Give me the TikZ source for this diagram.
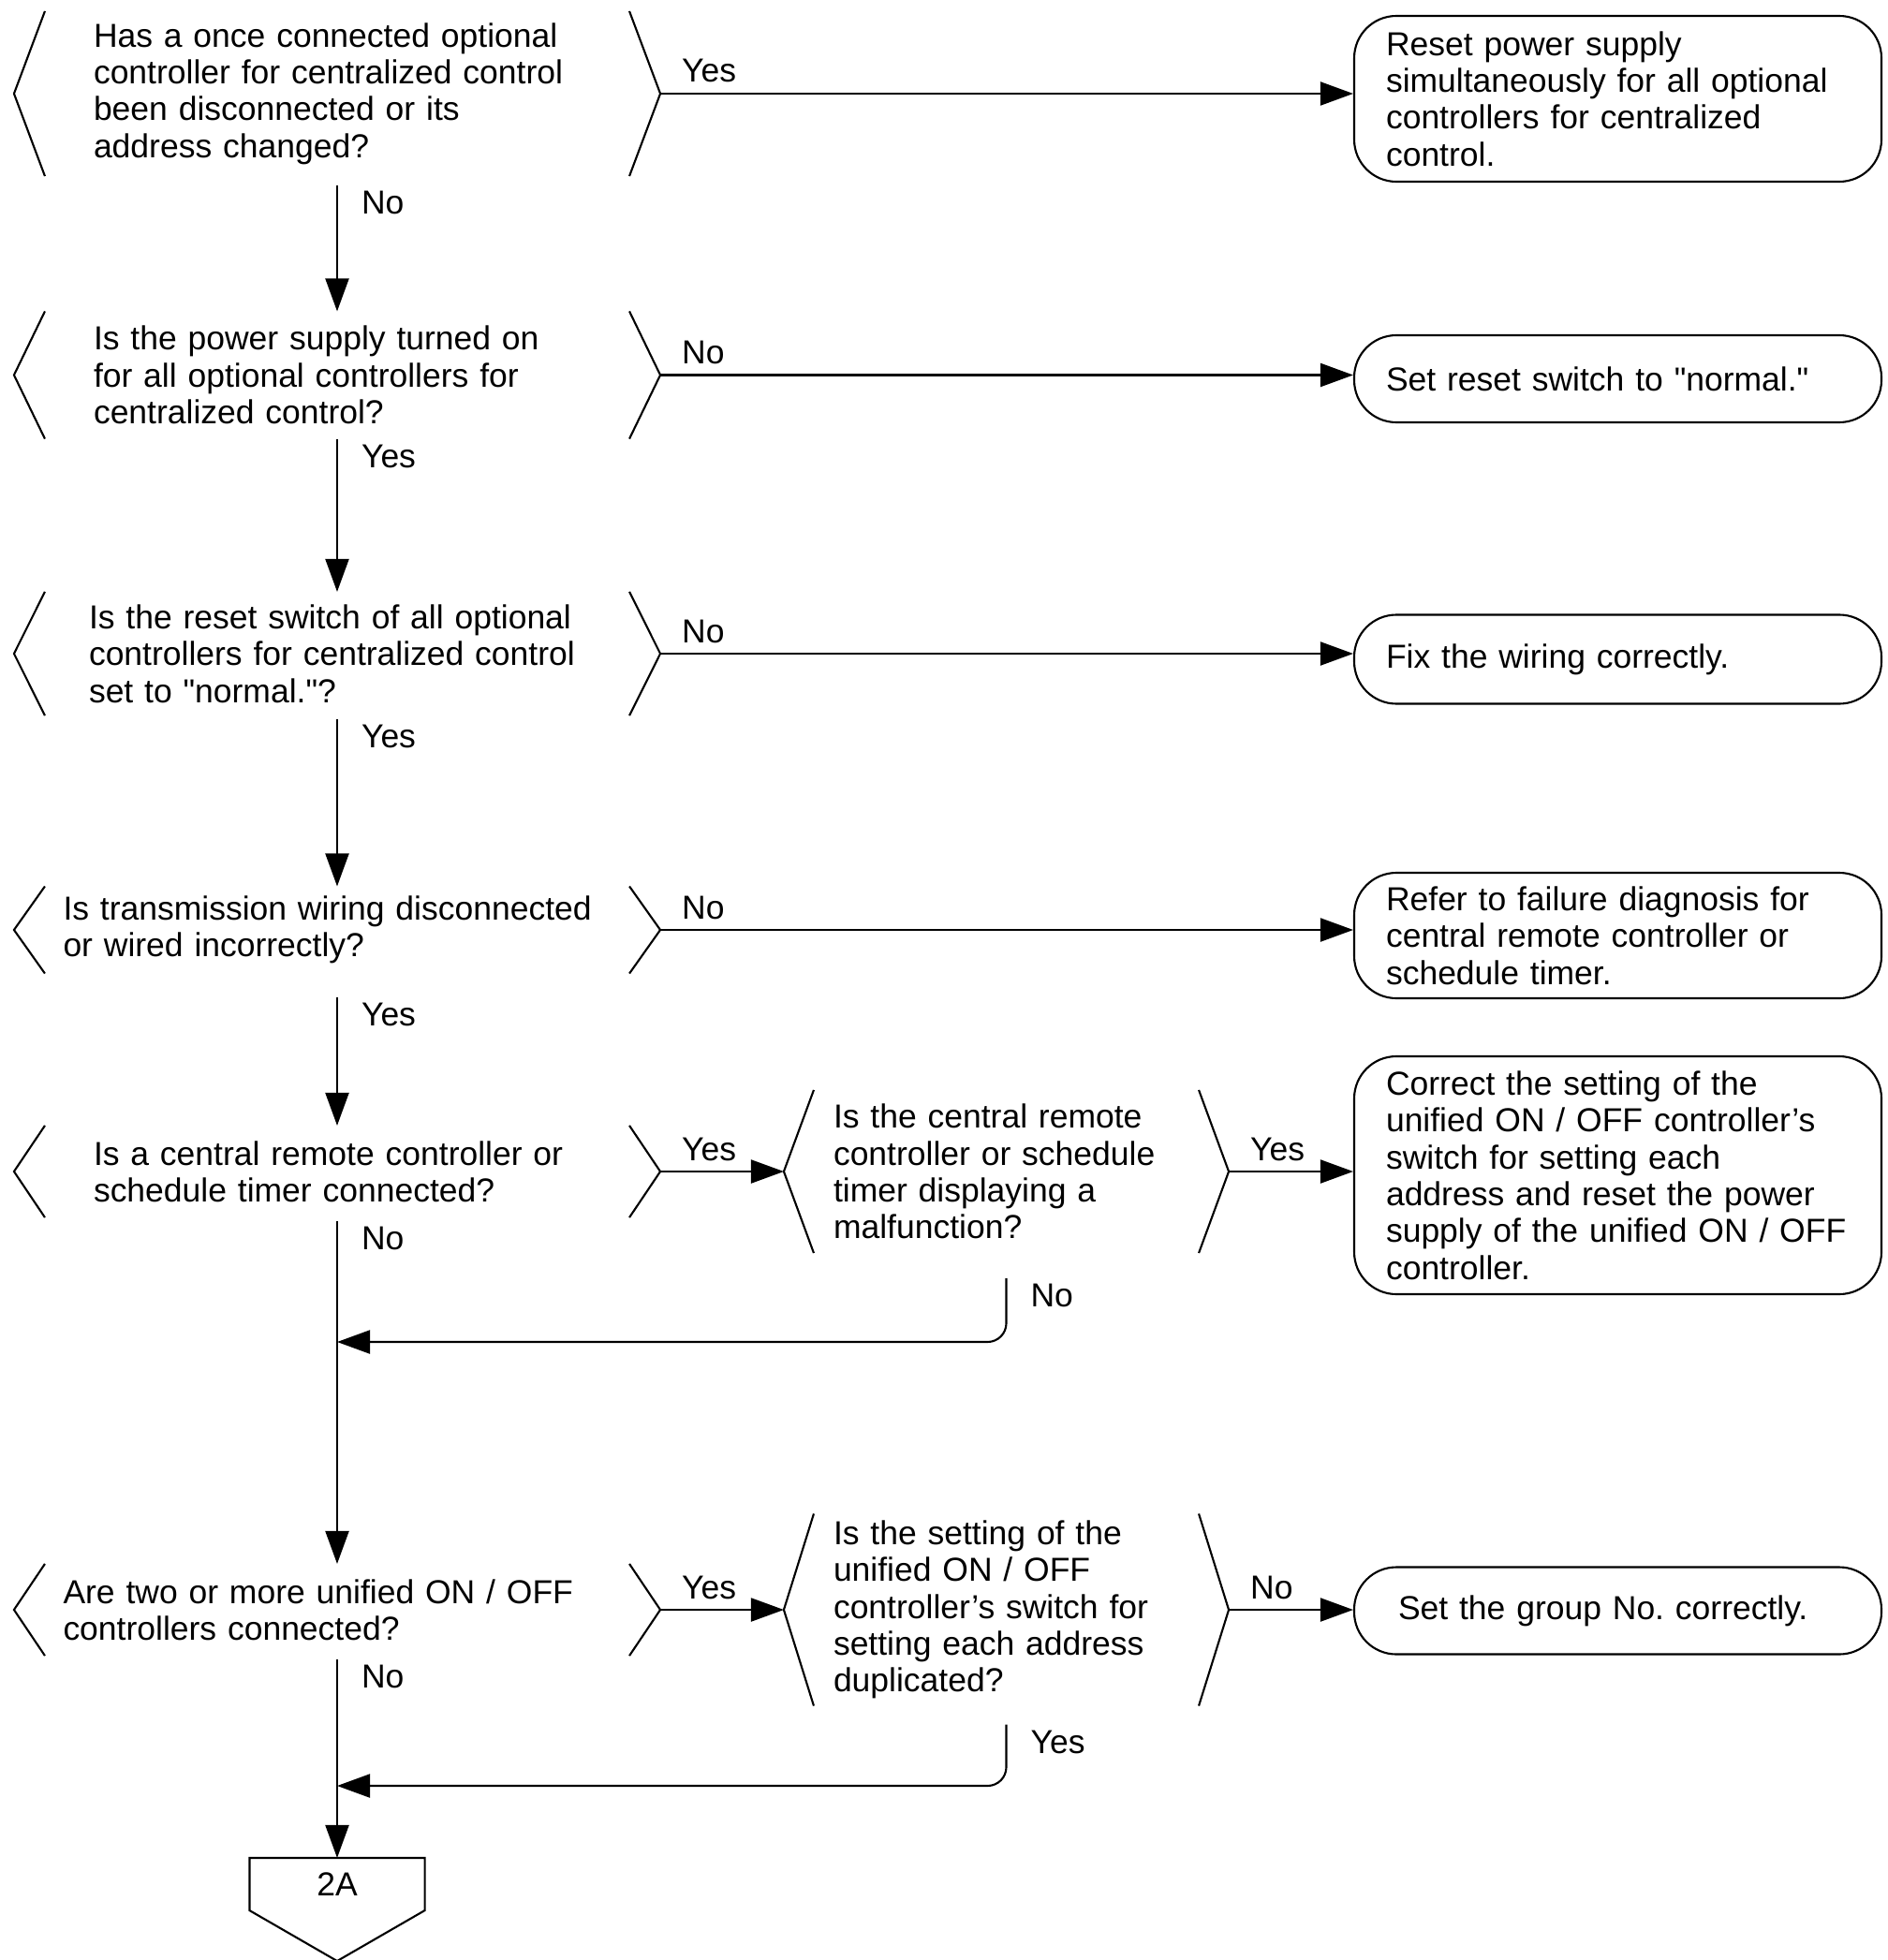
\documentclass[tikz,border=0pt]{standalone}
\usepackage{fontspec}
\setmainfont{Liberation Sans}
\usetikzlibrary{arrows.meta,calc}
\frenchspacing
\newcommand{\flowfont}{\fontsize{10.1}{11.2}\selectfont}
\newcommand{\qq}[1]{\textquotedbl#1\textquotedbl}
% the two angle marks round a question
\newcommand{\qmarks}[2]{%
  \coordinate (#1l) at ($(#1.west)+(-#2,0)$);
  \coordinate (#1r) at ($(#1.east)+(#2,0)$);
  \draw (#1.north west) -- (#1l) -- (#1.south west);
  \draw (#1.north east) -- (#1r) -- (#1.south east);}

\begin{document}
\begin{tikzpicture}[
    line width=0.6pt,
    >={Triangle[length=0.35cm,width=0.25cm]},
    question/.style={align=left,inner ysep=0pt,font=\flowfont},
    answer/.style={draw,rounded corners=0.45cm,align=left,inner ysep=0pt,
      text width=4.95cm,inner xsep=0.34cm,font=\flowfont},
    lbl/.style={inner sep=0pt,font=\flowfont}
  ]
  \useasboundingbox (0,0) rectangle (20.16,-20.93);

  %% Main column
  \node[question,minimum height=1.74cm,text width=5.2cm,inner xsep=0.51cm] (q1) at (3.6,-1.00)
    {Has a once connected optional\\controller for centralized control\\been disconnected or its\\address changed?};
  \node[question,minimum height=1.34cm,text width=5.2cm,inner xsep=0.51cm] (q2) at (3.6,-4.005)
    {Is the power supply turned on\\for all optional controllers for\\centralized control?};
  \node[question,minimum height=1.30cm,text width=5.3cm,inner xsep=0.46cm] (q3) at (3.6,-6.98)
    {Is the reset switch of all optional\\controllers for centralized control\\set to \qq{normal.}?};
  \node[question,minimum height=0.91cm,text width=5.85cm,inner xsep=0.185cm] (q4) at (3.6,-9.93)
    {Is transmission wiring disconnected\\or wired incorrectly?};
  \node[question,minimum height=0.96cm,text width=5.2cm,inner xsep=0.51cm] (q5) at (3.6,-12.51)
    {Is a central remote controller or\\schedule timer connected?};
  \node[question,minimum height=0.96cm,text width=5.85cm,inner xsep=0.185cm] (q7) at (3.6,-17.19)
    {Are two or more unified ON / OFF\\controllers connected?};

  %% Second column
  \node[question,minimum height=1.72cm,text width=3.69cm,inner xsep=0.20cm] (q6) at (10.745,-12.51)
    {Is the central remote\\controller or schedule\\timer displaying a\\malfunction?};
  \node[question,minimum height=2.03cm,text width=3.69cm,inner xsep=0.20cm] (q8) at (10.745,-17.19)
    {Is the setting of the\\unified ON / OFF\\controller's switch for\\setting each address\\duplicated?};

  \foreach \q in {q1,q2,q3,q4,q5,q7}{\qmarks{\q}{0.33cm}}
  \foreach \q in {q6,q8}{\qmarks{\q}{0.32cm}}

  %% Actions
  \node[answer,minimum height=1.77cm] (a1) at (17.275,-1.055)
    {Reset power supply\\simultaneously for all optional\\controllers for centralized\\control.};
  \node[answer,minimum height=0.93cm] (a2) at (17.275,-4.045)
    {Set reset switch to \qq{normal.}};
  \node[answer,minimum height=0.95cm] (a3) at (17.275,-7.04)
    {Fix the wiring correctly.};
  \node[answer,minimum height=1.34cm] (a4) at (17.275,-9.99)
    {Refer to failure diagnosis for\\central remote controller or\\schedule timer.};
  \node[answer,minimum height=2.54cm] (a5) at (17.275,-12.55)
    {Correct the setting of the\\unified ON / OFF controller's\\switch for setting each\\address and reset the power\\supply of the unified ON / OFF\\controller.};
  \node[answer,minimum height=0.93cm,text width=4.69cm,inner xsep=0.47cm] (a6) at (17.275,-17.20)
    {Set the group No. correctly.};

  %% Off-page mark
  \node[minimum width=1.85cm,minimum height=0.54cm,inner sep=0pt,font=\flowfont] (c2a) at (3.6,-20.12) {2A};
  \coordinate (c2ap) at ($(c2a.south)+(0,-0.54)$);
  \draw (c2a.south west) -- (c2a.north west) -- (c2a.north east) -- (c2a.south east) -- (c2ap) -- cycle;

  %% Down the main column
  \draw[->] ([yshift=-0.1cm]q1.south) -- node[lbl,at start,anchor=north west,xshift=0.25cm,yshift=-0.05cm]{No} (q2.north);
  \draw[->] (q2.south) -- node[lbl,at start,anchor=north west,xshift=0.25cm,yshift=-0.05cm]{Yes} (q3.north);
  \draw[->] ([yshift=-0.04cm]q3.south) -- node[lbl,at start,anchor=north west,xshift=0.25cm,yshift=-0.05cm]{Yes} (q4.north);
  \draw[->] ([yshift=-0.25cm]q4.south) -- node[lbl,at start,anchor=north west,xshift=0.25cm,yshift=-0.05cm]{Yes} (q5.north);
  \draw[->] ([yshift=-0.04cm]q5.south) -- node[lbl,at start,anchor=north west,xshift=0.25cm,yshift=-0.05cm]{No} (q7.north);
  \draw[->] ([yshift=-0.04cm]q7.south) -- node[lbl,at start,anchor=north west,xshift=0.25cm,yshift=-0.05cm]{No} (c2a.north);

  %% Out to the actions
  \draw[->] (q1r) -- node[lbl,at start,anchor=base west,xshift=0.22cm,yshift=0.12cm]{Yes} (q1r -| a1.west);
  \draw[->] (q2r) -- node[lbl,at start,anchor=base west,xshift=0.22cm,yshift=0.12cm]{No} (q2r -| a2.west);
  \draw[->] (q3r) -- node[lbl,at start,anchor=base west,xshift=0.22cm,yshift=0.12cm]{No} (q3r -| a3.west);
  \draw[->] (q4r) -- node[lbl,at start,anchor=base west,xshift=0.22cm,yshift=0.12cm]{No} (q4r -| a4.west);
  \draw[->] (q5r) -- node[lbl,at start,anchor=base west,xshift=0.22cm,yshift=0.12cm]{Yes} (q6l);
  \draw[->] (q6r) -- node[lbl,at start,anchor=base west,xshift=0.22cm,yshift=0.12cm]{Yes} (q6r -| a5.west);
  \draw[->] (q7r) -- node[lbl,at start,anchor=base west,xshift=0.22cm,yshift=0.12cm]{Yes} (q8l);
  \draw[->] (q8r) -- node[lbl,at start,anchor=base west,xshift=0.22cm,yshift=0.12cm]{No} (q8r -| a6.west);

  %% Back to the main column
  \coordinate (j1) at (3.6,-14.33);
  \coordinate (j2) at (3.6,-19.07);
  \draw[->,rounded corners=0.2cm] ([yshift=-0.27cm]q6.south) node[lbl,anchor=north west,xshift=0.25cm,yshift=-0.05cm]{No} |- (j1);
  \draw[->,rounded corners=0.2cm] ([yshift=-0.2cm]q8.south) node[lbl,anchor=north west,xshift=0.25cm,yshift=-0.05cm]{Yes} |- (j2);
\end{tikzpicture}
\end{document}
